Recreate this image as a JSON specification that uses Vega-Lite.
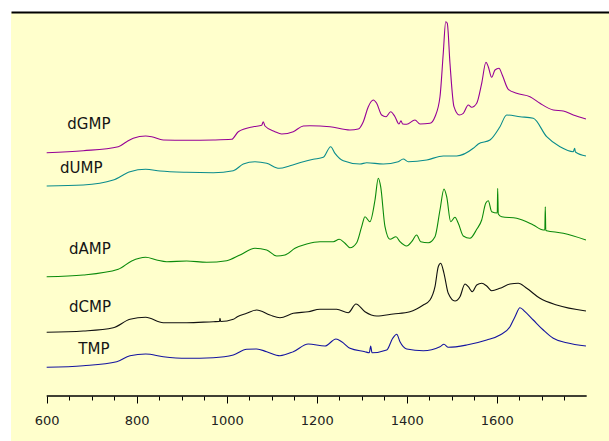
{
"$schema": "https://vega.github.io/schema/vega-lite/v6.json",
"width": 598, "height": 429,
"autosize": "none",
"padding": {"left": 11, "top": 12, "right": 0, "bottom": 0},
"background": "white",
"config": {"view": {"fill": "#FFFFCC", "stroke": null}},
"datasets": {
"spectra": [
{"s":"dGMP","x":600,"y":243.3},{"s":"dGMP","x":681.3,"y":245.3},{"s":"dGMP","x":759.1,"y":249.3},{"s":"dGMP","x":777.8,"y":254.3},{"s":"dGMP","x":792.4,"y":257.7},{"s":"dGMP","x":820,"y":260},{"s":"dGMP","x":833.3,"y":259.3},{"s":"dGMP","x":859.1,"y":256},{"s":"dGMP","x":911.1,"y":255.7},{"s":"dGMP","x":970.2,"y":256},{"s":"dGMP","x":1011.1,"y":256.7},{"s":"dGMP","x":1025.8,"y":264.3},{"s":"dGMP","x":1059.1,"y":269.3},{"s":"dGMP","x":1077.8,"y":270.7},{"s":"dGMP","x":1081.3,"y":274.3},{"s":"dGMP","x":1085.1,"y":270},{"s":"dGMP","x":1107.3,"y":264.3},{"s":"dGMP","x":1122.2,"y":262},{"s":"dGMP","x":1148,"y":264.3},{"s":"dGMP","x":1170.2,"y":270},{"s":"dGMP","x":1185.1,"y":270.3},{"s":"dGMP","x":1229.6,"y":269.3},{"s":"dGMP","x":1274,"y":266},{"s":"dGMP","x":1292.4,"y":267},{"s":"dGMP","x":1303.6,"y":274.3},{"s":"dGMP","x":1314.7,"y":289.3},{"s":"dGMP","x":1325.8,"y":296},{"s":"dGMP","x":1333.3,"y":292.7},{"s":"dGMP","x":1344.4,"y":281},{"s":"dGMP","x":1354,"y":279.3},{"s":"dGMP","x":1364.4,"y":284.3},{"s":"dGMP","x":1374,"y":279.3},{"s":"dGMP","x":1382.9,"y":272},{"s":"dGMP","x":1387.3,"y":275.3},{"s":"dGMP","x":1391.1,"y":272},{"s":"dGMP","x":1400,"y":271.7},{"s":"dGMP","x":1418.4,"y":276},{"s":"dGMP","x":1429.6,"y":272},{"s":"dGMP","x":1451.8,"y":272.7},{"s":"dGMP","x":1462.9,"y":279.3},{"s":"dGMP","x":1474,"y":299.3},{"s":"dGMP","x":1481.3,"y":342.7},{"s":"dGMP","x":1486.7,"y":374.3},{"s":"dGMP","x":1490.2,"y":372.7},{"s":"dGMP","x":1496.2,"y":332.7},{"s":"dGMP","x":1505.1,"y":289.3},{"s":"dGMP","x":1516.9,"y":281},{"s":"dGMP","x":1525.8,"y":282.7},{"s":"dGMP","x":1536.9,"y":291},{"s":"dGMP","x":1544.4,"y":288.7},{"s":"dGMP","x":1555.6,"y":292.7},{"s":"dGMP","x":1566.7,"y":312.7},{"s":"dGMP","x":1576.2,"y":333.7},{"s":"dGMP","x":1581.3,"y":329.3},{"s":"dGMP","x":1588.9,"y":318.7},{"s":"dGMP","x":1596.2,"y":326},{"s":"dGMP","x":1605.1,"y":327.7},{"s":"dGMP","x":1612.4,"y":321},{"s":"dGMP","x":1625.8,"y":306.7},{"s":"dGMP","x":1644.4,"y":302.7},{"s":"dGMP","x":1674,"y":299.3},{"s":"dGMP","x":1696.2,"y":292.7},{"s":"dGMP","x":1725.8,"y":286},{"s":"dGMP","x":1748,"y":285},{"s":"dGMP","x":1770.2,"y":281},{"s":"dGMP","x":1798.4,"y":277},
{"s":"dUMP","x":600,"y":210},{"s":"dUMP","x":681.3,"y":211},{"s":"dUMP","x":748,"y":216},{"s":"dUMP","x":785.1,"y":224.3},{"s":"dUMP","x":820,"y":226.7},{"s":"dUMP","x":851.8,"y":225},{"s":"dUMP","x":911.1,"y":223.7},{"s":"dUMP","x":970.2,"y":223.3},{"s":"dUMP","x":1014.7,"y":225.3},{"s":"dUMP","x":1036.9,"y":232},{"s":"dUMP","x":1062.9,"y":234.3},{"s":"dUMP","x":1088.9,"y":232.7},{"s":"dUMP","x":1116.9,"y":227.7},{"s":"dUMP","x":1140.7,"y":230.3},{"s":"dUMP","x":1170.2,"y":234.3},{"s":"dUMP","x":1192.4,"y":236.7},{"s":"dUMP","x":1214.7,"y":238.7},{"s":"dUMP","x":1231.1,"y":249.3},{"s":"dUMP","x":1240.7,"y":242.7},{"s":"dUMP","x":1259.1,"y":235.3},{"s":"dUMP","x":1296.2,"y":232},{"s":"dUMP","x":1311.1,"y":233.3},{"s":"dUMP","x":1348,"y":232},{"s":"dUMP","x":1381.3,"y":234.3},{"s":"dUMP","x":1392.4,"y":237},{"s":"dUMP","x":1403.6,"y":234.3},{"s":"dUMP","x":1444.4,"y":236},{"s":"dUMP","x":1481.3,"y":240},{"s":"dUMP","x":1511.1,"y":240},{"s":"dUMP","x":1548,"y":247.7},{"s":"dUMP","x":1559.1,"y":252},{"s":"dUMP","x":1585.1,"y":256},{"s":"dUMP","x":1607.3,"y":269.3},{"s":"dUMP","x":1622.2,"y":281},{"s":"dUMP","x":1651.8,"y":279.3},{"s":"dUMP","x":1681.3,"y":277.7},{"s":"dUMP","x":1711.1,"y":259.3},{"s":"dUMP","x":1740.7,"y":249.3},{"s":"dUMP","x":1770.2,"y":244.3},{"s":"dUMP","x":1773.3,"y":247.7},{"s":"dUMP","x":1775,"y":244},{"s":"dUMP","x":1798.4,"y":240},
{"s":"dAMP","x":600,"y":119.3},{"s":"dAMP","x":681.3,"y":121},{"s":"dAMP","x":759.1,"y":126.7},{"s":"dAMP","x":788.9,"y":135},{"s":"dAMP","x":820,"y":138.7},{"s":"dAMP","x":844.4,"y":136},{"s":"dAMP","x":866.7,"y":134.3},{"s":"dAMP","x":911.1,"y":135},{"s":"dAMP","x":955.6,"y":133.7},{"s":"dAMP","x":1000,"y":135.3},{"s":"dAMP","x":1029.6,"y":141},{"s":"dAMP","x":1062.9,"y":147.7},{"s":"dAMP","x":1088.9,"y":146},{"s":"dAMP","x":1111.1,"y":140},{"s":"dAMP","x":1129.6,"y":141},{"s":"dAMP","x":1151.8,"y":147.7},{"s":"dAMP","x":1177.8,"y":152},{"s":"dAMP","x":1207.3,"y":154.3},{"s":"dAMP","x":1236.9,"y":154.3},{"s":"dAMP","x":1250.2,"y":156.7},{"s":"dAMP","x":1262.9,"y":152.7},{"s":"dAMP","x":1274,"y":148.3},{"s":"dAMP","x":1288.9,"y":153.3},{"s":"dAMP","x":1300,"y":169.3},{"s":"dAMP","x":1307.3,"y":179.3},{"s":"dAMP","x":1318.4,"y":174.3},{"s":"dAMP","x":1329.6,"y":196},{"s":"dAMP","x":1336.9,"y":217.7},{"s":"dAMP","x":1342.2,"y":209.3},{"s":"dAMP","x":1351.8,"y":169.3},{"s":"dAMP","x":1362.9,"y":156.7},{"s":"dAMP","x":1376.2,"y":159.3},{"s":"dAMP","x":1385.1,"y":154.3},{"s":"dAMP","x":1400,"y":150},{"s":"dAMP","x":1411.1,"y":154.3},{"s":"dAMP","x":1422.2,"y":161},{"s":"dAMP","x":1431.1,"y":154.3},{"s":"dAMP","x":1448,"y":153.3},{"s":"dAMP","x":1462.9,"y":159.3},{"s":"dAMP","x":1474,"y":186},{"s":"dAMP","x":1482.9,"y":207},{"s":"dAMP","x":1488.9,"y":199.3},{"s":"dAMP","x":1497.8,"y":174.3},{"s":"dAMP","x":1507.3,"y":178.7},{"s":"dAMP","x":1514.7,"y":172.7},{"s":"dAMP","x":1525.8,"y":160},{"s":"dAMP","x":1540.7,"y":157.7},{"s":"dAMP","x":1555.6,"y":166.7},{"s":"dAMP","x":1566.7,"y":176},{"s":"dAMP","x":1575.6,"y":192.7},{"s":"dAMP","x":1581.3,"y":195.3},{"s":"dAMP","x":1588.9,"y":184.3},{"s":"dAMP","x":1601.3,"y":183},{"s":"dAMP","x":1602.2,"y":207.7},{"s":"dAMP","x":1603.6,"y":182},{"s":"dAMP","x":1611.1,"y":179.3},{"s":"dAMP","x":1644.4,"y":177.7},{"s":"dAMP","x":1681.3,"y":171},{"s":"dAMP","x":1703.6,"y":166},{"s":"dAMP","x":1707,"y":166},{"s":"dAMP","x":1708,"y":189.3},{"s":"dAMP","x":1709.1,"y":165.5},{"s":"dAMP","x":1711.1,"y":165.3},{"s":"dAMP","x":1748,"y":162.7},{"s":"dAMP","x":1798.4,"y":156},
{"s":"dCMP","x":600,"y":63.7},{"s":"dCMP","x":681.3,"y":65},{"s":"dCMP","x":748,"y":68.3},{"s":"dCMP","x":785.1,"y":76.7},{"s":"dCMP","x":820,"y":78.7},{"s":"dCMP","x":859.1,"y":73.3},{"s":"dCMP","x":911.1,"y":73.3},{"s":"dCMP","x":970.2,"y":74.3},{"s":"dCMP","x":984,"y":74.5},{"s":"dCMP","x":985.1,"y":77.7},{"s":"dCMP","x":986.7,"y":74.5},{"s":"dCMP","x":1014.7,"y":76.7},{"s":"dCMP","x":1023.6,"y":79.3},{"s":"dCMP","x":1044.4,"y":82.7},{"s":"dCMP","x":1066.7,"y":86},{"s":"dCMP","x":1096.2,"y":81},{"s":"dCMP","x":1118.4,"y":78.3},{"s":"dCMP","x":1148,"y":82.7},{"s":"dCMP","x":1181.3,"y":84.3},{"s":"dCMP","x":1207.3,"y":86.7},{"s":"dCMP","x":1244.4,"y":86.7},{"s":"dCMP","x":1270.2,"y":83.3},{"s":"dCMP","x":1287.3,"y":92},{"s":"dCMP","x":1307.3,"y":84.3},{"s":"dCMP","x":1333.3,"y":80},{"s":"dCMP","x":1370.2,"y":82},{"s":"dCMP","x":1407.3,"y":84.3},{"s":"dCMP","x":1436.9,"y":91},{"s":"dCMP","x":1451.8,"y":96},{"s":"dCMP","x":1462.9,"y":109.3},{"s":"dCMP","x":1470.2,"y":129.3},{"s":"dCMP","x":1475.6,"y":132.7},{"s":"dCMP","x":1482.9,"y":122.7},{"s":"dCMP","x":1492.4,"y":102.7},{"s":"dCMP","x":1507.3,"y":95},{"s":"dCMP","x":1518.4,"y":99.3},{"s":"dCMP","x":1529.6,"y":112},{"s":"dCMP","x":1536.9,"y":109.3},{"s":"dCMP","x":1545.8,"y":104.3},{"s":"dCMP","x":1555.6,"y":111},{"s":"dCMP","x":1566.7,"y":112.7},{"s":"dCMP","x":1577.8,"y":110},{"s":"dCMP","x":1588.9,"y":105.3},{"s":"dCMP","x":1607.3,"y":107.7},{"s":"dCMP","x":1629.6,"y":112},{"s":"dCMP","x":1648,"y":112.7},{"s":"dCMP","x":1666.7,"y":107.7},{"s":"dCMP","x":1696.2,"y":97.7},{"s":"dCMP","x":1733.3,"y":91},{"s":"dCMP","x":1798.4,"y":85},
{"s":"TMP","x":600,"y":28.7},{"s":"TMP","x":681.3,"y":30.3},{"s":"TMP","x":755.6,"y":34.3},{"s":"TMP","x":785.1,"y":40.3},{"s":"TMP","x":820,"y":42},{"s":"TMP","x":859.1,"y":39.3},{"s":"TMP","x":911.1,"y":37.7},{"s":"TMP","x":970.2,"y":38.3},{"s":"TMP","x":1014.7,"y":41},{"s":"TMP","x":1044.4,"y":46.7},{"s":"TMP","x":1066.7,"y":47},{"s":"TMP","x":1088.9,"y":44.3},{"s":"TMP","x":1118.4,"y":40.3},{"s":"TMP","x":1148,"y":44.3},{"s":"TMP","x":1181.3,"y":52},{"s":"TMP","x":1218.4,"y":50},{"s":"TMP","x":1242.9,"y":57},{"s":"TMP","x":1255.6,"y":54.3},{"s":"TMP","x":1274,"y":47.7},{"s":"TMP","x":1307.3,"y":44.3},{"s":"TMP","x":1316.9,"y":43.3},{"s":"TMP","x":1320,"y":50},{"s":"TMP","x":1322.9,"y":43.3},{"s":"TMP","x":1355.6,"y":46},{"s":"TMP","x":1368.9,"y":57.7},{"s":"TMP","x":1377.8,"y":61.7},{"s":"TMP","x":1385.1,"y":54.3},{"s":"TMP","x":1400,"y":47},{"s":"TMP","x":1436.9,"y":45.3},{"s":"TMP","x":1474,"y":49.3},{"s":"TMP","x":1482.9,"y":51.7},{"s":"TMP","x":1492.4,"y":48.7},{"s":"TMP","x":1533.3,"y":51},{"s":"TMP","x":1577.8,"y":56},{"s":"TMP","x":1607.3,"y":61},{"s":"TMP","x":1629.6,"y":69.3},{"s":"TMP","x":1640.7,"y":79.3},{"s":"TMP","x":1651.8,"y":88.3},{"s":"TMP","x":1662.9,"y":84.3},{"s":"TMP","x":1681.3,"y":76},{"s":"TMP","x":1703.6,"y":66},{"s":"TMP","x":1725.8,"y":57.7},{"s":"TMP","x":1755.6,"y":53.3},{"s":"TMP","x":1798.4,"y":50}
],
"labels": [
{"t":"dGMP","x":645.8,"y":266.7},{"t":"dUMP","x":629.6,"y":222.7},{"t":"dAMP","x":649.6,"y":142},{"t":"dCMP","x":649.6,"y":84.3},{"t":"TMP","x":670.2,"y":42}
],
"axisline": [{"a":600,"b":1800,"y":0}]
},
"layer": [
{
"data": {"name": "spectra"},
"mark": {"type": "line", "strokeWidth": 1.1, "interpolate": "monotone"},
"encoding": {
"x": {"field": "x", "type": "quantitative", "scale": {"domain": [520.7, 1849.6], "nice": false, "zero": false},
 "axis": {"orient": "bottom", "offset": -45, "domain": false, "grid": false, "title": null,
  "values": [600,650,700,750,800,850,900,950,1000,1050,1100,1150,1200,1250,1300,1350,1400,1450,1500,1550,1600,1650,1700,1750],
  "labelExpr": "datum.value % 200 === 0 ? datum.label : ''",
  "format": "d",
  "tickColor": "black", "tickWidth": 1,
  "tickSize": {"condition": {"test": "datum.value % 200 === 0", "value": 7}, "value": 4},
  "labelFont": "DejaVu Sans", "labelFontSize": 13, "labelColor": "#222222", "labelPadding": 11, "labelOverlap": false, "labelFlush": false}},
"y": {"field": "y", "type": "quantitative", "scale": {"domain": [-45, 384], "nice": false, "zero": false},
 "axis": {"orient": "left", "domain": true, "domainColor": "black", "domainWidth": 2, "ticks": false, "labels": false, "grid": false, "title": null}},
"color": {"field": "s", "type": "nominal", "legend": null,
 "scale": {"domain": ["dGMP","dUMP","dAMP","dCMP","TMP"], "range": ["#960096","#0A8C8C","#0A8A0A","#111111","#1414A0"]}}
}
},
{
"data": {"name": "axisline"},
"mark": {"type": "rule", "color": "black", "strokeWidth": 1.3},
"encoding": {
"x": {"field": "a", "type": "quantitative", "axis": null},
"x2": {"field": "b"},
"y": {"field": "y", "type": "quantitative", "axis": null}
}
},
{
"data": {"name": "labels"},
"mark": {"type": "text", "align": "left", "baseline": "alphabetic", "font": "DejaVu Sans", "fontSize": 15, "color": "#151515"},
"encoding": {
"x": {"field": "x", "type": "quantitative",
 "axis": {"orient": "top", "domain": true, "domainColor": "black", "domainWidth": 2, "ticks": false, "labels": false, "grid": false, "title": null}},
"y": {"field": "y", "type": "quantitative", "axis": null},
"text": {"field": "t"}
}
}
]
}
